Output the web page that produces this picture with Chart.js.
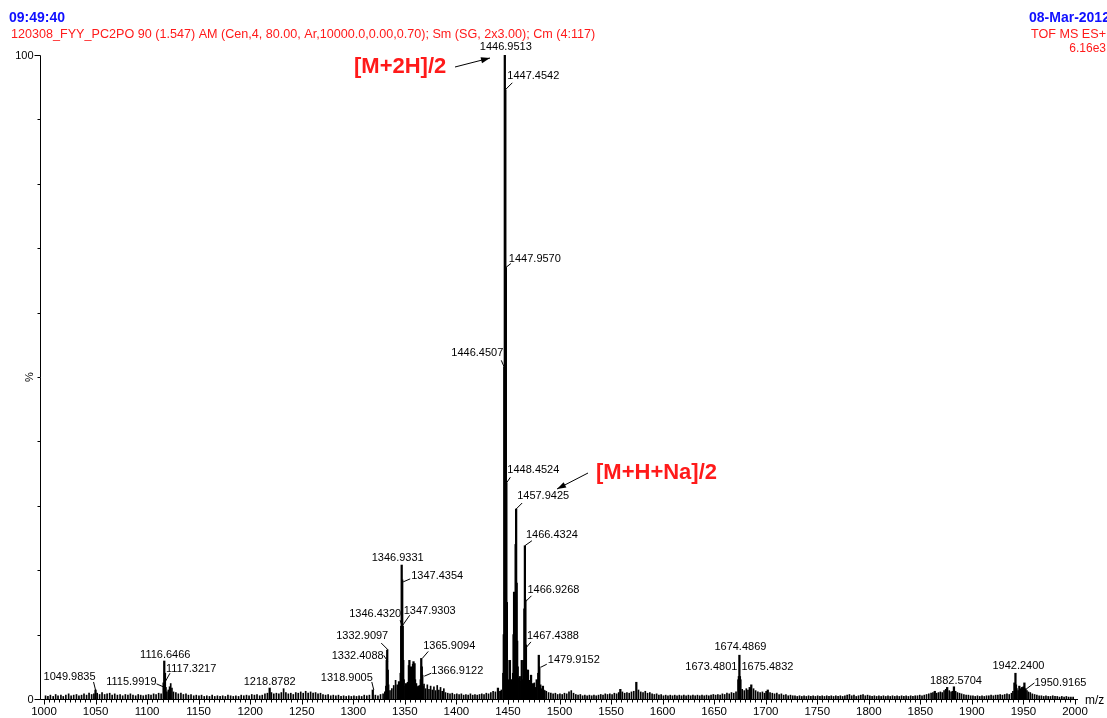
<!DOCTYPE html>
<html><head><meta charset="utf-8">
<script src="https://cdn.jsdelivr.net/npm/chart.js@4"></script>
<style>html,body{margin:0;padding:0;background:#fff;overflow:hidden;} #c{display:block;}</style>
</head><body>
<canvas id="c" width="1107" height="718"></canvas>
<script>
// ---------- data ----------
const xTickLabels = [1000,1050,1100,1150,1200,1250,1300,1350,1400,1450,1500,1550,1600,1650,1700,1750,1800,1850,1900,1950,2000];
const yTickValues = [0,10,20,30,40,50,60,70,80,90,100];
const yTickLabels = {0:'0', 100:'100'};
const headerTime = '09:49:40';
const headerDate = '08-Mar-2012';
const headerInfo = '120308_FYY_PC2PO 90 (1.547) AM (Cen,4, 80.00, Ar,10000.0,0.00,0.70); Sm (SG, 2x3.00); Cm (4:117)';
const headerMode = 'TOF MS ES+';
const headerIntensity = '6.16e3';
const annoTexts = ['[M+2H]/2', '[M+H+Na]/2'];

// [m/z, relative intensity %]
const majorPeaks = [
 [1049.9835,1.4],
 [1115.9919,2.5],[1116.6466,5.9],[1117.3217,4.0],[1117.98,1.8],
 [1218.8782,1.7],
 [1318.9005,1.4],
 [1331.91,2.0],[1332.4088,6.0],[1332.9097,7.6],[1333.41,4.5],[1333.91,2.2],
 [1344.3,2.7],[1345.93,4.0],[1346.4320,11.3],[1346.9331,20.8],[1347.4354,18.5],[1347.9303,11.3],[1348.43,6.0],[1348.93,3.0],
 [1351.1,2.4],[1353.9,5.2],[1354.4,6.0],[1355.9,5.0],[1357.9,5.4],[1358.4,5.8],[1359.4,5.5],[1359.9,3.0],[1363.0,2.0],
 [1365.4,3.0],[1365.9094,6.3],[1366.41,5.0],[1366.9122,3.7],[1367.4,2.0],
 [1440.3,1.7],[1442.5,1.2],
 [1445.45,4.0],[1445.95,10],[1446.4507,51.5],[1446.9513,100],[1447.4542,94.6],[1447.9570,67],[1448.4524,33.5],[1448.95,15],[1449.45,6],[1449.95,3],
 [1451.9,6.0],[1452.4,3.0],
 [1454.94,4],[1455.44,10],[1455.94,16.6],[1456.44,12],[1456.94,8],[1457.44,24],[1457.9425,29.5],[1458.44,18],[1458.94,9],[1459.45,5],
 [1461.5,3.5],[1463.4,6.0],[1464.4,3],
 [1465.43,6],[1465.93,14],[1466.4324,23.8],[1466.9268,15.4],[1467.4388,8.4],[1467.94,4.5],
 [1469.4,4.5],[1470.4,2.5],[1472.4,3.7],[1474.4,2.4],[1477.9,3.0],[1479.4,4],[1479.9152,6.8],[1480.4,5.0],[1481.4,2.2],[1483.9,2.0],[1485.5,1.3],
 [1559,1.5],[1574.5,2.6],
 [1673.4801,3.0],[1673.98,3.5],[1674.4869,6.8],[1674.98,3.5],[1675.4832,3.0],
 [1684.5,1.8],[1686,2.2],[1702,1.4],
 [1864,1.2],[1876,1.8],[1882.5704,1.9],
 [1941.24,2.5],[1942.2400,4.0],[1942.74,2.2],[1946,2.0],[1948.5,1.8],[1950.9165,2.5],[1952,1.6]
];

const noisePeaks = [
[1001.5,0.5],[1003.8,0.4],[1006.2,0.6],[1008.9,0.4],[1011.3,0.7],[1013.6,0.5],[1016.4,0.6],[1018.7,0.4],[1021.2,0.6],[1023.9,0.8],[1026.3,0.5],[1028.8,0.6],[1031.5,0.7],[1033.9,0.5],[1036.4,0.6],[1038.8,0.8],[1041.3,0.6],[1043.7,0.9],[1046.2,0.7],[1048.4,0.8],[1051.6,0.9],[1053.9,0.7],[1056.3,1.0],[1058.8,0.7],[1061.2,0.8],[1063.7,0.9],[1066.1,0.6],[1068.6,0.8],[1071.2,0.6],[1073.8,0.7],[1076.3,0.5],[1078.9,0.7],[1081.4,0.6],[1083.8,0.8],[1086.3,0.6],[1088.9,0.5],[1091.4,0.7],[1093.8,0.6],[1096.3,0.5],[1098.9,0.6],[1101.4,0.7],[1103.8,0.6],[1106.3,0.8],[1108.7,0.7],[1111.2,0.9],[1113.6,0.8],[1119.2,1.1],[1120.6,1.4],[1121.8,1.9],[1122.9,2.4],[1124.1,1.7],[1125.6,1.1],[1127.9,1.0],[1130.3,0.8],[1132.8,0.9],[1135.2,0.7],[1137.7,0.8],[1140.1,0.6],[1142.6,0.7],[1145.2,0.5],[1147.7,0.6],[1150.3,0.5],[1152.8,0.6],[1155.4,0.4],[1157.9,0.5],[1160.5,0.4],[1163.1,0.6],[1165.6,0.4],[1168.2,0.5],[1170.8,0.4],[1173.3,0.5],[1175.9,0.4],[1178.4,0.6],[1181.0,0.5],[1183.6,0.4],[1186.1,0.5],[1188.7,0.4],[1191.3,0.6],[1193.8,0.5],[1196.4,0.6],[1198.9,0.5],[1201.5,0.7],[1204.1,0.6],[1206.6,0.7],[1209.2,0.5],[1211.7,0.6],[1214.3,0.8],[1216.7,0.9],[1220.6,1.0],[1222.9,0.8],[1225.4,0.9],[1227.8,0.8],[1230.2,1.0],[1232.4,1.6],[1234.6,1.0],[1237.0,0.8],[1239.4,0.9],[1241.8,0.7],[1244.2,1.0],[1246.6,0.9],[1249.0,1.1],[1251.4,0.9],[1253.8,1.2],[1256.2,0.9],[1258.6,1.1],[1261.0,0.9],[1263.4,1.0],[1265.8,0.8],[1268.2,0.9],[1270.6,0.7],[1273.1,0.6],[1275.6,0.7],[1278.1,0.5],[1280.6,0.6],[1283.1,0.5],[1285.6,0.6],[1288.1,0.4],[1290.6,0.5],[1293.1,0.4],[1295.6,0.5],[1298.1,0.4],[1300.6,0.5],[1303.1,0.4],[1305.6,0.5],[1308.1,0.4],[1310.6,0.6],[1313.1,0.5],[1315.6,0.6],[1321.4,0.6],[1323.9,0.5],[1326.4,0.7],[1328.9,0.8],[1330.6,1.1],[1335.6,1.3],[1337.4,1.6],[1339.2,2.1],[1341.0,2.9],[1342.6,2.2],[1350.2,2.0],[1352.6,2.6],[1356.9,3.0],[1361.2,2.4],[1362.2,1.8],[1364.2,2.1],[1368.6,2.3],[1370.2,1.6],[1371.8,2.2],[1373.4,1.5],[1375.0,2.0],[1376.6,1.4],[1378.2,1.9],[1379.8,1.3],[1381.4,2.1],[1383.0,1.4],[1384.6,1.8],[1386.2,1.2],[1387.8,1.6],[1389.4,1.0],[1391.6,0.9],[1393.8,0.8],[1396.0,0.9],[1398.2,0.7],[1400.4,0.8],[1402.6,0.7],[1404.8,0.8],[1407.0,0.6],[1409.2,0.7],[1411.4,0.6],[1413.6,0.8],[1415.8,0.6],[1418.0,0.7],[1420.2,0.6],[1422.4,0.7],[1424.6,0.8],[1426.8,0.7],[1429.0,0.9],[1431.2,0.8],[1433.4,1.0],[1435.6,1.2],[1437.8,1.1],[1443.6,1.4],[1450.7,2.5],[1453.2,3.0],[1460.6,3.2],[1462.6,2.8],[1468.6,2.6],[1471.2,2.9],[1473.4,2.0],[1475.6,2.5],[1476.8,1.8],[1482.6,1.6],[1484.8,1.4],[1487.2,1.2],[1489.4,1.0],[1491.6,0.9],[1493.8,0.8],[1496.0,0.9],[1498.2,0.7],[1500.4,0.8],[1502.6,0.7],[1504.8,0.9],[1507.0,0.8],[1509.2,1.1],[1511.4,1.3],[1513.6,0.9],[1515.8,0.7],[1518.0,0.6],[1520.2,0.7],[1522.4,0.5],[1524.6,0.6],[1526.8,0.5],[1529.0,0.6],[1531.2,0.5],[1533.4,0.6],[1535.6,0.5],[1537.8,0.6],[1540.0,0.7],[1542.2,0.6],[1544.4,0.8],[1546.6,0.7],[1548.8,0.8],[1551.0,0.7],[1553.2,0.9],[1555.4,0.8],[1557.4,1.0],[1561.0,1.1],[1563.2,0.9],[1565.4,1.0],[1567.6,0.9],[1569.8,1.1],[1572.0,1.2],[1576.6,1.4],[1578.8,1.1],[1581.0,1.0],[1583.2,1.2],[1585.4,0.9],[1587.6,1.0],[1589.8,0.8],[1592.0,0.7],[1594.2,0.8],[1596.4,0.6],[1598.6,0.7],[1600.8,0.5],[1603.0,0.6],[1605.2,0.5],[1607.4,0.6],[1609.6,0.5],[1611.8,0.6],[1614.0,0.5],[1616.2,0.6],[1618.4,0.5],[1620.6,0.6],[1622.8,0.5],[1625.0,0.6],[1627.2,0.5],[1629.4,0.6],[1631.6,0.5],[1633.8,0.6],[1636.0,0.5],[1638.2,0.6],[1640.4,0.5],[1642.6,0.6],[1644.8,0.5],[1647.0,0.6],[1649.2,0.7],[1651.4,0.6],[1653.6,0.7],[1655.8,0.6],[1658.0,0.8],[1660.2,0.7],[1662.4,0.9],[1664.6,0.8],[1666.8,1.0],[1669.0,0.9],[1671.2,1.1],[1677.2,1.5],[1679.2,1.3],[1681.2,1.6],[1682.8,1.4],[1688.2,1.6],[1690.2,1.3],[1692.4,1.1],[1694.6,1.0],[1696.8,1.1],[1698.8,0.9],[1700.4,1.2],[1704.2,1.0],[1706.4,0.9],[1708.6,0.8],[1710.8,0.9],[1713.0,0.7],[1715.2,0.8],[1717.4,0.6],[1719.6,0.7],[1721.8,0.5],[1724.0,0.6],[1726.2,0.5],[1728.4,0.5],[1730.6,0.4],[1732.8,0.5],[1735.0,0.4],[1737.2,0.5],[1739.4,0.4],[1741.6,0.5],[1743.8,0.4],[1746.0,0.5],[1748.2,0.4],[1750.4,0.5],[1752.6,0.4],[1754.8,0.5],[1757.0,0.4],[1759.2,0.5],[1761.4,0.4],[1763.6,0.5],[1765.8,0.4],[1768.0,0.5],[1770.2,0.4],[1772.4,0.5],[1774.6,0.4],[1776.8,0.5],[1779.0,0.6],[1781.2,0.7],[1783.4,0.5],[1785.6,0.6],[1787.8,0.4],[1790.0,0.5],[1792.2,0.6],[1794.4,0.7],[1796.6,0.5],[1798.8,0.6],[1801.0,0.5],[1803.2,0.4],[1805.4,0.5],[1807.6,0.4],[1809.8,0.5],[1812.0,0.4],[1814.2,0.5],[1816.4,0.4],[1818.6,0.5],[1820.8,0.4],[1823.0,0.5],[1825.2,0.4],[1827.4,0.5],[1829.6,0.4],[1831.8,0.5],[1834.0,0.4],[1836.2,0.5],[1838.4,0.4],[1840.6,0.5],[1842.8,0.4],[1845.0,0.5],[1847.2,0.5],[1849.4,0.6],[1851.6,0.5],[1853.8,0.6],[1856.0,0.7],[1858.2,0.8],[1860.4,0.9],[1862.2,1.0],[1865.8,0.9],[1867.6,1.0],[1869.4,1.1],[1871.2,1.0],[1873.0,1.3],[1874.6,1.5],[1878.0,1.3],[1879.8,1.1],[1881.2,1.2],[1884.2,1.2],[1886.0,1.0],[1888.0,0.9],[1890.0,0.8],[1892.2,0.7],[1894.4,0.6],[1896.6,0.6],[1898.8,0.5],[1901.0,0.5],[1903.2,0.4],[1905.4,0.5],[1907.6,0.4],[1909.8,0.5],[1912.0,0.4],[1914.2,0.5],[1916.4,0.5],[1918.6,0.6],[1920.8,0.5],[1923.0,0.6],[1925.2,0.6],[1927.4,0.7],[1929.6,0.6],[1931.8,0.7],[1934.0,0.8],[1936.2,0.7],[1938.4,0.9],[1939.8,1.2],[1943.6,1.6],[1944.8,1.3],[1947.2,1.6],[1949.8,1.9],[1953.4,1.3],[1954.8,1.1],[1956.6,1.0],[1958.6,0.8],[1960.8,0.7],[1963.0,0.6],[1965.2,0.5],[1967.4,0.5],[1969.6,0.4],[1971.8,0.5],[1974.0,0.4],[1976.2,0.4],[1978.4,0.5],[1980.6,0.4],[1982.8,0.4],[1985.0,0.3],[1987.2,0.4],[1989.4,0.3],[1991.6,0.4],[1993.8,0.3],[1996.0,0.3],[1998.2,0.3]
];

// labelled peaks (m/z values shown as text)
const labelledMz = [1446.9513,1447.4542,1447.9570,1446.4507,1448.4524,1457.9425,1466.4324,1466.9268,1467.4388,1479.9152,
 1346.9331,1347.4354,1346.4320,1347.9303,1332.9097,1332.4088,1318.9005,1365.9094,1366.9122,
 1116.6466,1117.3217,1115.9919,1049.9835,1218.8782,1674.4869,1673.4801,1675.4832,1882.5704,1942.2400,1950.9165];

// ---------- label layout (pixel offsets from the peak top; styling only) ----------
const labelLayout = {
 1446.9513:{a:'c',tx:1,ty:-8},
 1447.4542:{a:'l',tx:2,ty:-14,ln:[7,-7,0,0]},
 1447.9570:{a:'l',tx:3,ty:-9,ln:[5,-4,0,0]},
 1446.4507:{a:'r',tx:-1,ty:-14,ln:[-3,-7,0,0]},
 1448.4524:{a:'l',tx:1,ty:-13,ln:[4,-6,0,0]},
 1457.9425:{a:'l',tx:1,ty:-13,ln:[6,-6,0,0]},
 1466.4324:{a:'l',tx:1,ty:-11,ln:[7,-5,0,0]},
 1466.9268:{a:'l',tx:2,ty:-10,ln:[6,-4,0,2]},
 1467.4388:{a:'l',tx:1,ty:-9,ln:[5,-3,0,3]},
 1479.9152:{a:'l',tx:9,ty:5,ln:[8,9,2,12]},
 1346.9331:{a:'c',tx:-4,ty:-7},
 1347.4354:{a:'l',tx:9,ty:-4,ln:[8,-1,1,2]},
 1346.4320:{a:'r',tx:0,ty:-12,ln:[-1,-6,1,0]},
 1347.9303:{a:'l',tx:1,ty:-15,ln:[7,-11,0,-1]},
 1332.9097:{a:'r',tx:1,ty:-14,ln:[-6,-7,1,0]},
 1332.4088:{a:'r',tx:-3,ty:-4,ln:[-3,-5,1,1]},
 1318.9005:{a:'r',tx:0,ty:-12,ln:[-1,-8,1,0]},
 1365.9094:{a:'l',tx:2,ty:-12,ln:[7,-7,1,0]},
 1366.9122:{a:'l',tx:9,ty:-4,ln:[9,-2,2,1]},
 1116.6466:{a:'c',tx:1,ty:-6},
 1117.3217:{a:'l',tx:1,ty:-4,ln:[5,0,0,9]},
 1115.9919:{a:'r',tx:-7,ty:-1,ln:[-7,1,0,4]},
 1049.9835:{a:'r',tx:0,ty:-13,ln:[-2,-8,0,0]},
 1218.8782:{a:'c',tx:0,ty:-6},
 1674.4869:{a:'c',tx:1,ty:-8},
 1673.4801:{a:'r',tx:-1,ty:-13},
 1675.4832:{a:'l',tx:1,ty:-13},
 1882.5704:{a:'c',tx:2,ty:-6},
 1942.2400:{a:'c',tx:3,ty:-7},
 1950.9165:{a:'l',tx:10,ty:0,ln:[10,0,2,6]}
};

const FONT = '"Liberation Sans", Arial, Helvetica, sans-serif';
const RED = '#ff1a1a';
const BLUE = '#1010ff';

const overlay = {
 id:'overlay',
 afterDraw(chart){
  const ctx = chart.ctx, ca = chart.chartArea, xs = chart.scales.x, ys = chart.scales.y;
  ctx.save();
  ctx.strokeStyle = '#000'; ctx.fillStyle = '#000'; ctx.lineWidth = 1;
  const ax = Math.round(ca.left) + 0.5;
  const ay = Math.round(ys.getPixelForValue(0)) + 0.5;
  // axes lines
  ctx.beginPath();
  ctx.moveTo(ax, Math.round(ys.getPixelForValue(100)) + 0.5); ctx.lineTo(ax, ay);
  ctx.lineTo(Math.round(ca.right), ay);
  ctx.stroke();
  // y ticks
  ctx.font = '11px ' + FONT; ctx.textAlign = 'right'; ctx.textBaseline = 'middle';
  yTickValues.forEach(v => {
   const py = Math.round(ys.getPixelForValue(v)) + 0.5;
   const len = (v in yTickLabels) ? 6 : 3;
   ctx.beginPath(); ctx.moveTo(ax - len, py); ctx.lineTo(ax, py); ctx.stroke();
   if (v in yTickLabels) ctx.fillText(yTickLabels[v], ax - 7, py);
  });
  // x ticks
  for (let v = 1000; v <= 2000; v += 5) {
   const px = Math.round(xs.getPixelForValue(v)) + 0.5;
   const major = v % 50 === 0;
   ctx.beginPath(); ctx.moveTo(px, ay); ctx.lineTo(px, ay + (major ? 5 : 3)); ctx.stroke();
  }
  ctx.font = '11.5px ' + FONT; ctx.textAlign = 'center'; ctx.textBaseline = 'middle';
  xTickLabels.forEach(v => ctx.fillText(String(v), xs.getPixelForValue(v), ay + 12.5));
  ctx.textAlign = 'left';
  ctx.font = '12px ' + FONT;
  ctx.fillText('m/z', ca.right + 7, ay + 1);
  // y title
  ctx.save(); ctx.translate(30, 377); ctx.rotate(-Math.PI/2);
  ctx.font = '11px ' + FONT; ctx.textAlign = 'center'; ctx.textBaseline = 'middle';
  ctx.fillText('%', 0, 0); ctx.restore();

  // peak labels
  ctx.font = '11px ' + FONT; ctx.textBaseline = 'middle';
  labelledMz.forEach(mz => {
   const pk = majorPeaks.find(p => p[0] === mz);
   const L = labelLayout[mz];
   const px = xs.getPixelForValue(mz), py = ys.getPixelForValue(pk[1]);
   ctx.textAlign = L.a === 'c' ? 'center' : (L.a === 'l' ? 'left' : 'right');
   ctx.fillText(mz.toFixed(4), px + L.tx, py + L.ty);
   if (L.ln) {
    ctx.beginPath(); ctx.moveTo(px + L.ln[0], py + L.ln[1]); ctx.lineTo(px + L.ln[2], py + L.ln[3]); ctx.stroke();
   }
  });

  // header texts
  ctx.textBaseline = 'alphabetic';
  ctx.fillStyle = BLUE; ctx.font = 'bold 14px ' + FONT; ctx.textAlign = 'left';
  ctx.fillText(headerTime, 9, 22);
  ctx.fillText(headerDate, 1029, 22);
  ctx.fillStyle = RED; ctx.font = '12.6px ' + FONT;
  ctx.fillText(headerInfo, 11, 38);
  ctx.textAlign = 'right';
  ctx.fillText(headerMode, 1106, 38);
  ctx.font = '12px ' + FONT;
  ctx.fillText(headerIntensity, 1106, 52);

  // annotations with arrows
  ctx.textAlign = 'left'; ctx.font = 'bold 22px ' + FONT; ctx.fillStyle = RED;
  ctx.fillText(annoTexts[0], 354, 73);
  ctx.fillText(annoTexts[1], 596, 479);
  const arrow = (x1,y1,x2,y2) => {
   ctx.strokeStyle = '#000'; ctx.fillStyle = '#000'; ctx.lineWidth = 1;
   ctx.beginPath(); ctx.moveTo(x1,y1); ctx.lineTo(x2,y2); ctx.stroke();
   const ang = Math.atan2(y2-y1, x2-x1), hl = 9, hw = 3;
   const bx = x2 - hl*Math.cos(ang), by = y2 - hl*Math.sin(ang);
   ctx.beginPath(); ctx.moveTo(x2,y2);
   ctx.lineTo(bx + hw*Math.sin(ang), by - hw*Math.cos(ang));
   ctx.lineTo(bx - hw*Math.sin(ang), by + hw*Math.cos(ang));
   ctx.closePath(); ctx.fill();
  };
  arrow(455, 67, 490, 58);
  arrow(588, 473, 557, 489);
  ctx.restore();
 }
};

const toXY = arr => arr.map(p => ({x:p[0], y:p[1]}));

new Chart(document.getElementById('c'), {
 type:'bar',
 data:{datasets:[
  {data: toXY(noisePeaks), backgroundColor:'#000', barThickness:1, grouped:false},
  {data: toXY(majorPeaks), backgroundColor:'#000', barThickness:1.6, grouped:false}
 ]},
 options:{
  responsive:false, animation:false, events:[],
  layout:{padding:{left:40, top:55, right:29, bottom:19}},
  plugins:{legend:{display:false}, tooltip:{enabled:false}},
  scales:{
   x:{type:'linear', min:996.12, max:2002.9, display:false, offset:false},
   y:{type:'linear', min:0, max:100, display:false}
  }
 },
 plugins:[overlay]
});
</script>
</body></html>
